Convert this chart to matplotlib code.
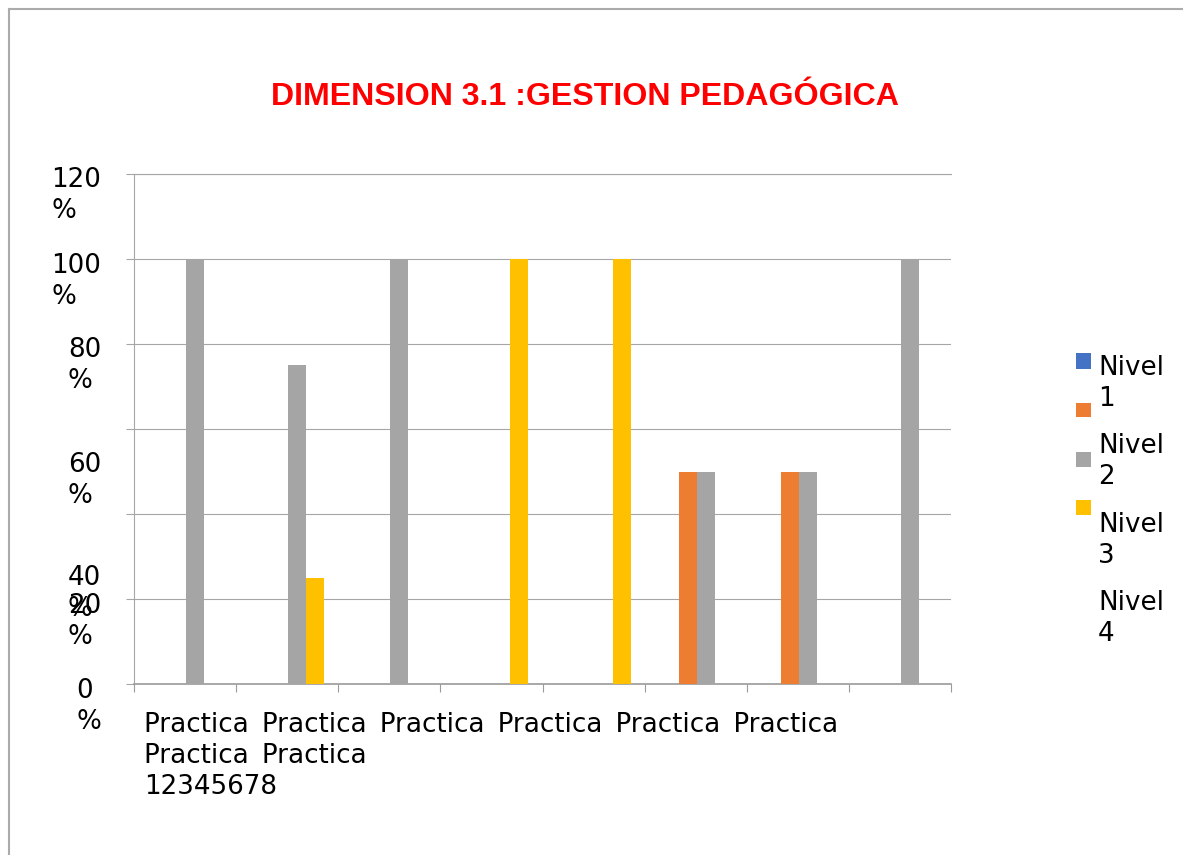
import numpy as np
import matplotlib
matplotlib.use("Agg")
import matplotlib.pyplot as plt
import matplotlib.transforms as mtransforms
from matplotlib.patches import Rectangle
from matplotlib.lines import Line2D

# datos
categories = ["Practica 1", "Practica 2", "Practica 3", "Practica 4",
              "Practica 5", "Practica 6", "Practica 7", "Practica 8"]
series_names = ["Nivel 1", "Nivel 2", "Nivel 3", "Nivel 4"]
nivel1 = [0, 0, 0, 0, 0, 0, 0, 0]
nivel2 = [0, 0, 0, 0, 0, 50, 50, 0]
nivel3 = [100, 75, 100, 0, 0, 50, 50, 100]
nivel4 = [0, 25, 0, 100, 100, 0, 0, 0]
colors = ["#4472C4", "#ED7D31", "#A5A5A5", "#FFC000"]
yticks = [0, 20, 40, 60, 80, 100, 120]
title = "DIMENSION 3.1 :GESTION PEDAGÓGICA"

W, H = 1183, 855
GRID = "#A6A6A6"
FS = 18.8

fig = plt.figure(figsize=(W / 100, H / 100), dpi=100)
ax = fig.add_axes([134 / W, 1 - 684 / H, (951 - 134) / W, (684 - 174) / H])

# barras
x = np.arange(len(categories))
bw = 0.176
for i, vals in enumerate([nivel1, nivel2, nivel3, nivel4]):
    ax.bar(x + (i - 1.5) * bw + 0.01, vals, bw, color=colors[i], linewidth=0, zorder=3)

ax.set_xlim(-0.5, len(categories) - 0.5)
ax.set_ylim(0, 120)
ax.set_yticks(yticks)
ax.set_yticklabels([])
ax.set_xticks(np.arange(len(categories) + 1) - 0.5)
ax.set_xticklabels([])
ax.tick_params(axis="y", direction="out", length=5.8, width=0.8, color=GRID)
ax.tick_params(axis="x", direction="out", length=5.8, width=0.8, color="#9A9A9A")
ax.grid(axis="y", color=GRID, linewidth=0.8, zorder=0)
for s in ["top", "right"]:
    ax.spines[s].set_visible(False)
ax.spines["left"].set_color(GRID)
ax.spines["left"].set_linewidth(0.8)
ax.spines["bottom"].set_color("#9A9A9A")
ax.spines["bottom"].set_linewidth(1.2)
ax.axhline(120, color=GRID, linewidth=0.8, clip_on=False, zorder=1)

# etiquetas del eje y (desplazadas como en el original)
label_shift = [4, 4, 61, 33, 3, 4, 3]  # px hacia abajo del centro de la 1a linea
for v, sh in zip(yticks, label_shift):
    tr = mtransforms.offset_copy(ax.get_yaxis_transform(), fig=fig,
                                 x=-33, y=-(sh - 10.5), units="dots")
    ax.text(0, v, f"{v}\n%", transform=tr, ha="right", va="top",
            multialignment="left", fontsize=FS, linespacing=1.25)

# etiqueta del eje x amontonada (espaciado ancho entre palabras)
sep = "\u2002"
words = [c.split()[0] for c in categories]
nums = "".join(c.split()[1] for c in categories)
xlabel = sep.join(words[:6]) + "\n" + sep.join(words[6:]) + "\n" + nums
fig.text(144 / W, 1 - 712 / H, xlabel, ha="left", va="top",
         fontsize=FS, linespacing=1.25)

# titulo
fig.text(585 / W, 1 - 105 / H, title, ha="center", va="baseline",
         color="red", fontweight="bold", fontsize=23.1,
         family=["Liberation Sans", "DejaVu Sans"])

# leyenda
marker_y = [361, 410, 459, 507]
text_top = [355, 433, 512, 590]
for i, name in enumerate(series_names):
    if i < len(marker_y):
        fig.add_artist(Rectangle((1076 / W, 1 - (marker_y[i] + 7.5) / H),
                                 15 / W, 15 / H, transform=fig.transFigure,
                                 facecolor=colors[i], edgecolor="none"))
    fig.text(1098 / W, 1 - text_top[i] / H, name.replace(" ", "\n"),
             ha="left", va="top", fontsize=FS, linespacing=1.25)

# borde del grafico
fig.add_artist(Line2D([9 / W, 9 / W], [0, 1 - 9 / H], color="#ABABAB",
                      linewidth=1.5, transform=fig.transFigure))
fig.add_artist(Line2D([9 / W, 1], [1 - 9 / H, 1 - 9 / H], color="#ABABAB",
                      linewidth=1.5, transform=fig.transFigure))

fig.savefig("out.png", dpi=100)
